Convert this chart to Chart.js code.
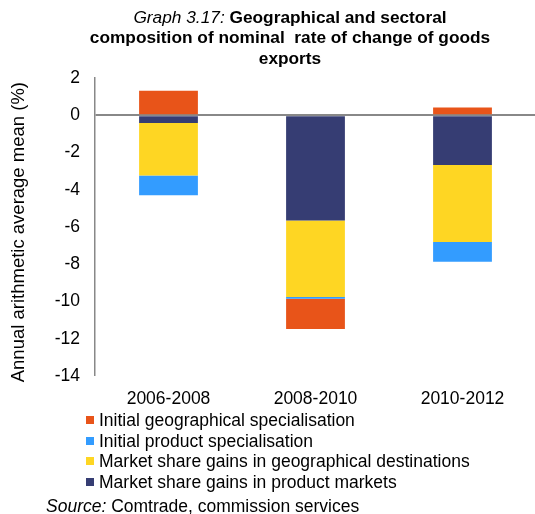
<!DOCTYPE html>
<html>
<head>
<meta charset="utf-8">
<script src="https://cdn.jsdelivr.net/npm/chart.js@4"></script>
<style>
  html, body { margin: 0; padding: 0; width: 535px; height: 514px; overflow: hidden; background: #fff; font-family: "Liberation Sans", Arial, sans-serif; }
  #wrap { position: relative; width: 535px; height: 514px; overflow: hidden; }
  #c { position: absolute; left: 0; top: 0; }
  #title { position: absolute; left: 45px; width: 490px; top: 7px; text-align: center; font-size: 17.3px; line-height: 20.4px; color: #000; white-space: pre; }
  #title i { font-weight: normal; }
  #title b { font-weight: bold; }
  #legend { position: absolute; left: 86px; top: 410px; font-size: 17.5px; line-height: 20.5px; color: #000; }
  .item { display: flex; align-items: center; white-space: nowrap; height: 20.5px; }
  .sw { width: 8px; height: 8px; margin-right: 5px; flex: none; }
  #source { position: absolute; left: 46px; top: 496px; font-size: 17.5px; line-height: 20px; color: #000; white-space: nowrap; }
</style>
</head>
<body>
<div id="wrap">
  <canvas id="c" width="541" height="514"></canvas>
  <div id="title"><i>Graph 3.17:</i><b> Geographical and sectoral</b>
<b>composition of nominal  rate of change of goods</b>
<b>exports</b></div>
  <div id="legend"></div>
  <div id="source"><i>Source:</i> Comtrade, commission services</div>
</div>
<script>
const categories = ['2006-2008', '2008-2010', '2010-2012'];
const seriesNames = [
  'Market share gains in product markets',
  'Market share gains in geographical destinations',
  'Initial product specialisation',
  'Initial geographical specialisation'
];
const productMarkets = [-0.41, -5.65, -2.67];
const geoDestinations = [-2.83, -4.11, -4.14];
const initialProduct = [-1.06, -0.09, -1.06];
const initialGeo = [1.32, -1.62, 0.42];
const seriesColors = ['#363D73', '#FED623', '#339CFF', '#E85419'];
const yTicks = [2, 0, -2, -4, -6, -8, -10, -12, -14];

const seriesValues = [productMarkets, geoDestinations, initialProduct, initialGeo];
const datasets = seriesNames.map((name, i) => ({
  label: name,
  data: seriesValues[i],
  backgroundColor: seriesColors[i],
  borderWidth: 0,
  categoryPercentage: 1.0,
  barPercentage: 0.4
}));

const chart = new Chart(document.getElementById('c'), {
  type: 'bar',
  data: { labels: categories, datasets },
  options: {
    responsive: false,
    animation: false,
    devicePixelRatio: 1,
    layout: { padding: { top: 78, left: 0, right: 5, bottom: 98 } },
    plugins: { legend: { display: false }, tooltip: { enabled: false }, title: { display: false } },
    scales: {
      x: {
        stacked: true,
        grid: { display: false, drawTicks: false },
        border: { display: false },
        ticks: { color: '#000', font: { family: 'Liberation Sans', size: 17.5 }, padding: 13 },
        afterFit: s => { s.height = 40; }
      },
      y: {
        stacked: true,
        min: -14, max: 2,
        afterBuildTicks: s => { s.ticks = yTicks.map(v => ({ value: v })); },
        grid: {
          drawTicks: false,
          color: ctx => (ctx.tick && ctx.tick.value === 0 ? '#888888' : 'rgba(0,0,0,0)'),
          lineWidth: ctx => (ctx.tick && ctx.tick.value === 0 ? 2 : 0)
        },
        border: { display: true, color: '#888888', width: 1.5 },
        ticks: { color: '#000', font: { family: 'Liberation Sans', size: 17.5 }, padding: 15 },
        title: {
          display: true,
          text: 'Annual arithmetic average mean (%)  ',
          color: '#000',
          font: { family: 'Liberation Sans', size: 18.5 },
          padding: { top: 8, bottom: 0 }
        },
        afterFit: s => { s.width = 95; }
      }
    }
  }
});

const legendEl = document.getElementById('legend');
chart.data.datasets.slice().reverse().forEach(ds => {
  const row = document.createElement('div');
  row.className = 'item';
  const sw = document.createElement('span');
  sw.className = 'sw';
  sw.style.background = ds.backgroundColor;
  const tx = document.createElement('span');
  tx.textContent = ds.label;
  row.appendChild(sw);
  row.appendChild(tx);
  legendEl.appendChild(row);
});
</script>
</body>
</html>
